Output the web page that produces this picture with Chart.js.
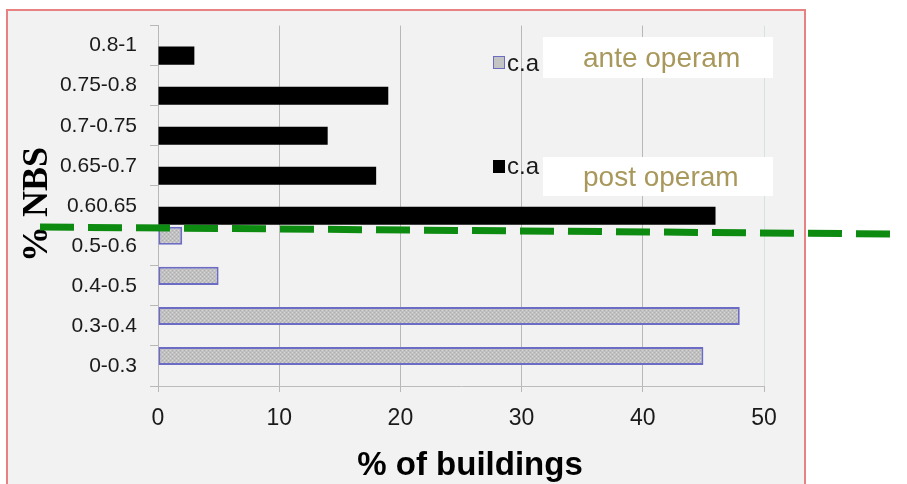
<!DOCTYPE html>
<html><head><meta charset="utf-8">
<script src="https://cdn.jsdelivr.net/npm/chart.js@4.4.0/dist/chart.umd.min.js"></script>
<style>
html,body{margin:0;padding:0;background:#fff;}
#wrap{position:relative;width:907px;height:484px;overflow:hidden;}
#c{position:absolute;left:0;top:0;}
.box{position:absolute;background:#fff;color:#a8985c;font-family:'Liberation Sans',Arial,sans-serif;font-size:28px;padding-left:40px;box-sizing:border-box;white-space:nowrap;}
.ca{position:absolute;font-family:'Liberation Sans',Arial,sans-serif;font-size:24px;line-height:28px;color:#1a1a1a;white-space:nowrap;}
.sq{position:absolute;width:12px;height:13px;box-sizing:border-box;}
</style></head>
<body>
<div id="wrap">
<canvas id="c" width="907" height="484"></canvas>
<div class="sq" style="left:493px;top:56px;background:#c4c4c4;border:1px solid #6c6cc4;"></div>
<div class="ca" style="left:507px;top:49px;">c.a</div>
<div class="box" style="left:543px;top:37px;width:230px;height:41px;line-height:41px;">ante operam</div>
<div class="sq" style="left:493px;top:160px;background:#000;"></div>
<div class="ca" style="left:507px;top:152px;">c.a</div>
<div class="box" style="left:543px;top:157px;width:230px;height:39px;line-height:39px;">post operam</div>
</div>
<script>
const categories = ['0.8-1','0.75-0.8','0.7-0.75','0.65-0.7','0.60.65','0.5-0.6','0.4-0.5','0.3-0.4','0-0.3'];
const anteOperam = [null,null,null,null,null,2,5,48,45];
const postOperam = [3,19,14,18,46,null,null,null,null];
const xTicks = [0,10,20,30,40,50];
const seriesNames = ['c.a ante operam','c.a post operam'];
const xTitle = '% of buildings';
const yTitle = '% NBS';

function makePattern(){
  const p = document.createElement('canvas');
  p.width = 4; p.height = 4;
  const g = p.getContext('2d');
  g.fillStyle = '#c0c0c0'; g.fillRect(0,0,4,4);
  g.fillStyle = '#d8d8d8';
  g.fillRect(0,0,1,1); g.fillRect(2,2,1,1);
  g.fillStyle = '#aeaeae';
  g.fillRect(2,0,1,1); g.fillRect(0,2,1,1);
  return document.getElementById('c').getContext('2d').createPattern(p,'repeat');
}

const deco = {
  id:'deco',
  beforeDraw(chart){
    const ctx = chart.ctx;
    ctx.save();
    ctx.fillStyle = '#fff'; ctx.fillRect(0,0,907,484);
    ctx.fillStyle = '#f2f2f2'; ctx.fillRect(7,10,798,480);
    ctx.strokeStyle = '#e88282'; ctx.lineWidth = 2;
    ctx.strokeRect(7,10,798,490);
    ctx.restore();
  },
  afterDraw(chart){
    const ctx = chart.ctx;
    ctx.save();
    ctx.fillStyle = '#000';
    ctx.font = 'bold 33px "Liberation Sans", Arial, sans-serif';
    ctx.textAlign = 'center'; ctx.textBaseline = 'alphabetic';
    ctx.fillText(xTitle, 470, 475);
    ctx.translate(47, 204.5);
    ctx.rotate(-Math.PI/2);
    ctx.font = 'bold 36px "Liberation Serif", "Times New Roman", serif';
    ctx.fillText(yTitle, 0, 0);
    ctx.restore();
    ctx.save();
    ctx.strokeStyle = '#0d8a10';
    ctx.lineWidth = 7;
    ctx.setLineDash([34,14]);
    ctx.beginPath(); ctx.moveTo(40,227); ctx.lineTo(895,234); ctx.stroke();
    ctx.restore();
  }
};

new Chart(document.getElementById('c'), {
  type:'bar',
  data:{
    labels: categories,
    datasets:[
      {label:seriesNames[0], data:anteOperam, backgroundColor:makePattern(), borderColor:'#6c6cc4', borderWidth:2, borderSkipped:false},
      {label:seriesNames[1], data:postOperam, backgroundColor:'#000', borderWidth:0}
    ]
  },
  options:{
    indexAxis:'y',
    responsive:false,
    animation:false,
    devicePixelRatio:1,
    categoryPercentage:1,
    barPercentage:0.9,
    layout:{padding:{left:0,top:24,right:143,bottom:0}},
    plugins:{legend:{display:false},tooltip:{enabled:false}},
    scales:{
      x:{
        min:0,max:50,
        afterBuildTicks(s){ s.ticks = xTicks.map(v=>({value:v})); },
        afterFit(s){ s.height = 98; },
        grid:{color:(c)=> c.tick && c.tick.value===50 ? '#d6e2e2' : '#b8b8b8', tickLength:6, tickColor:'#b8b8b8', lineWidth:1},
        border:{color:'#bcbcbc'},
        ticks:{font:{family:'"Liberation Sans", Arial, sans-serif',size:23},color:'#1a1a1a',padding:13,maxRotation:0}
      },
      y:{
        afterFit(s){ s.width = 158; },
        grid:{drawOnChartArea:false,offset:true,tickLength:8,color:'#b8b8b8'},
        border:{color:'#b8b8b8'},
        ticks:{font:{family:'"Liberation Sans", Arial, sans-serif',size:21},color:'#1a1a1a',padding:13}
      }
    }
  },
  plugins:[deco]
});
</script>
</body></html>
